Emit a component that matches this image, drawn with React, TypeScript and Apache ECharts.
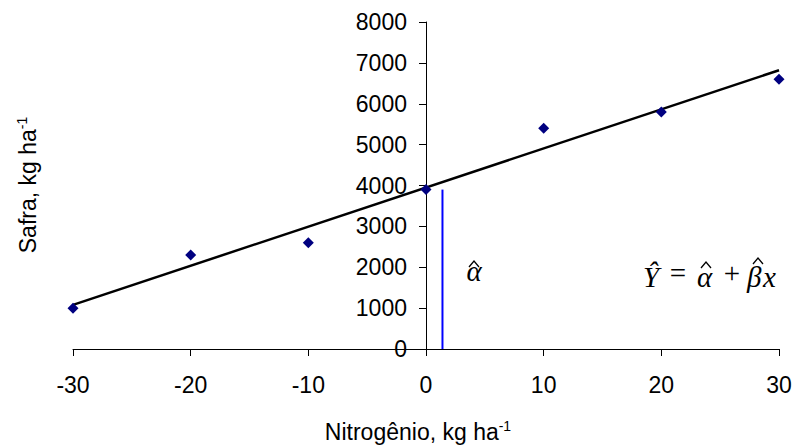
import React, { useEffect, useRef } from 'react';
import * as echarts from 'echarts';

const nitrogen = [-30, -20, -10, 0, 10, 20, 30];
const safra = [1000, 2300, 2600, 3900, 5400, 5800, 6600];
const fitX = [-30, 30];
const fitY = [1080, 6820];
const alphaX = [1.4, 1.4];
const alphaY = [0, 3900];
const xMin = -30;
const xMax = 30;
const xStep = 10;
const yMin = 0;
const yMax = 8000;
const yStep = 1000;

export default function App() {
  const ref = useRef<HTMLDivElement>(null);
  useEffect(() => {
    if (!ref.current) return;
    const chart = echarts.init(ref.current, null, { renderer: 'svg' });
    const sans = 'Liberation Sans, Arial, sans-serif';
    const serif = 'Liberation Serif, Times New Roman, serif';
    const gridLeft = 73;
    const gridRight = 16;
    const plotW = 795 - gridLeft - gridRight;
    const zeroOffset = -((0 - xMin) / (xMax - xMin)) * plotW;
    const txt = (x: number, y: number, text: string, italic: boolean, align = 'left', size = 29) => ({
      type: 'text',
      x,
      y,
      style: {
        text,
        font: (italic ? 'italic ' : '') + size + 'px ' + serif,
        fill: '#000',
        textAlign: align,
        textVerticalAlign: 'middle',
        align,
        verticalAlign: 'middle',
      },
    });
    const hat = (cx: number, cy: number, w: number) => ({
      type: 'polyline',
      shape: { points: [[cx - w / 2, cy + 3], [cx, cy - 3], [cx + w / 2, cy + 3]] },
      style: { stroke: '#000', lineWidth: 1.3, fill: 'none' },
    });
    chart.setOption({
      animation: false,
      backgroundColor: '#fff',
      grid: { left: gridLeft, right: gridRight, top: 22, bottom: 99, containLabel: false },
      xAxis: {
        type: 'value',
        min: xMin,
        max: xMax,
        interval: xStep,
        splitLine: { show: false },
        axisLine: { lineStyle: { color: '#000', width: 1 } },
        axisTick: { length: 7, lineStyle: { color: '#000' } },
        axisLabel: { color: '#000', fontSize: 23, fontFamily: sans, margin: 24 },
      },
      yAxis: {
        type: 'value',
        position: 'left',
        offset: zeroOffset,
        min: yMin,
        max: yMax,
        interval: yStep,
        splitLine: { show: false },
        axisLine: { onZero: false, lineStyle: { color: '#000', width: 1 } },
        axisTick: { length: 7, lineStyle: { color: '#000' } },
        axisLabel: {
          color: '#000',
          fontSize: 23,
          fontFamily: sans,
          margin: 19,
          formatter: (v: number) => String(v),
        },
      },
      series: [
        {
          type: 'line',
          data: fitX.map((x, i) => [x, fitY[i]]),
          symbol: 'none',
          lineStyle: { color: '#000', width: 2.5 },
          z: 2,
        },
        {
          type: 'line',
          data: alphaX.map((x, i) => [x, alphaY[i]]),
          symbol: 'none',
          lineStyle: { color: '#0000ff', width: 2 },
          z: 2,
        },
        {
          type: 'scatter',
          data: nitrogen.map((x, i) => [x, safra[i]]),
          symbol: 'diamond',
          symbolSize: 11,
          itemStyle: { color: '#000080', opacity: 1 },
          z: 3,
        },
      ],
      graphic: [
        {
          type: 'text',
          x: 418,
          y: 432,
          style: {
            text: '{b|Nitrogênio, kg ha}{s|-1}',
            textAlign: 'center',
            textVerticalAlign: 'middle',
            align: 'center',
            verticalAlign: 'middle',
            rich: {
              b: { fontSize: 23, fontFamily: sans, fill: '#000', lineHeight: 26 },
              s: { fontSize: 14, fontFamily: sans, fill: '#000', verticalAlign: 'top', lineHeight: 26, padding: [0, 0, 10, 0] },
            },
          },
        },
        {
          type: 'text',
          x: 28,
          y: 185,
          rotation: Math.PI / 2,
          style: {
            text: '{b|Safra, kg ha}{s|-1}',
            textAlign: 'center',
            textVerticalAlign: 'middle',
            align: 'center',
            verticalAlign: 'middle',
            rich: {
              b: { fontSize: 23, fontFamily: sans, fill: '#000', lineHeight: 26 },
              s: { fontSize: 14, fontFamily: sans, fill: '#000', verticalAlign: 'top', lineHeight: 26, padding: [0, 0, 10, 0] },
            },
          },
        },
        // standalone alpha-hat
        txt(474, 271, 'α', true, 'center', 29),
        hat(474, 264, 10),
        // equation  Ŷ = α̂ + β̂x
        txt(643, 277, 'Ŷ', true, 'left', 29),
        txt(678, 272.5, '=', false, 'center', 29),
        txt(697, 277, 'α', true, 'left', 29),
        hat(706, 265, 10),
        txt(732, 272.5, '+', false, 'center', 29),
        txt(747, 277, 'β', true, 'left', 29),
        hat(758, 261, 10),
        txt(763, 277, 'x', true, 'left', 29),
      ],
    });
    return () => chart.dispose();
  }, []);
  return (
    <div
      ref={ref}
      style={{ position: 'fixed', left: 0, top: 0, width: 795, height: 448, background: '#fff' }}
    />
  );
}
